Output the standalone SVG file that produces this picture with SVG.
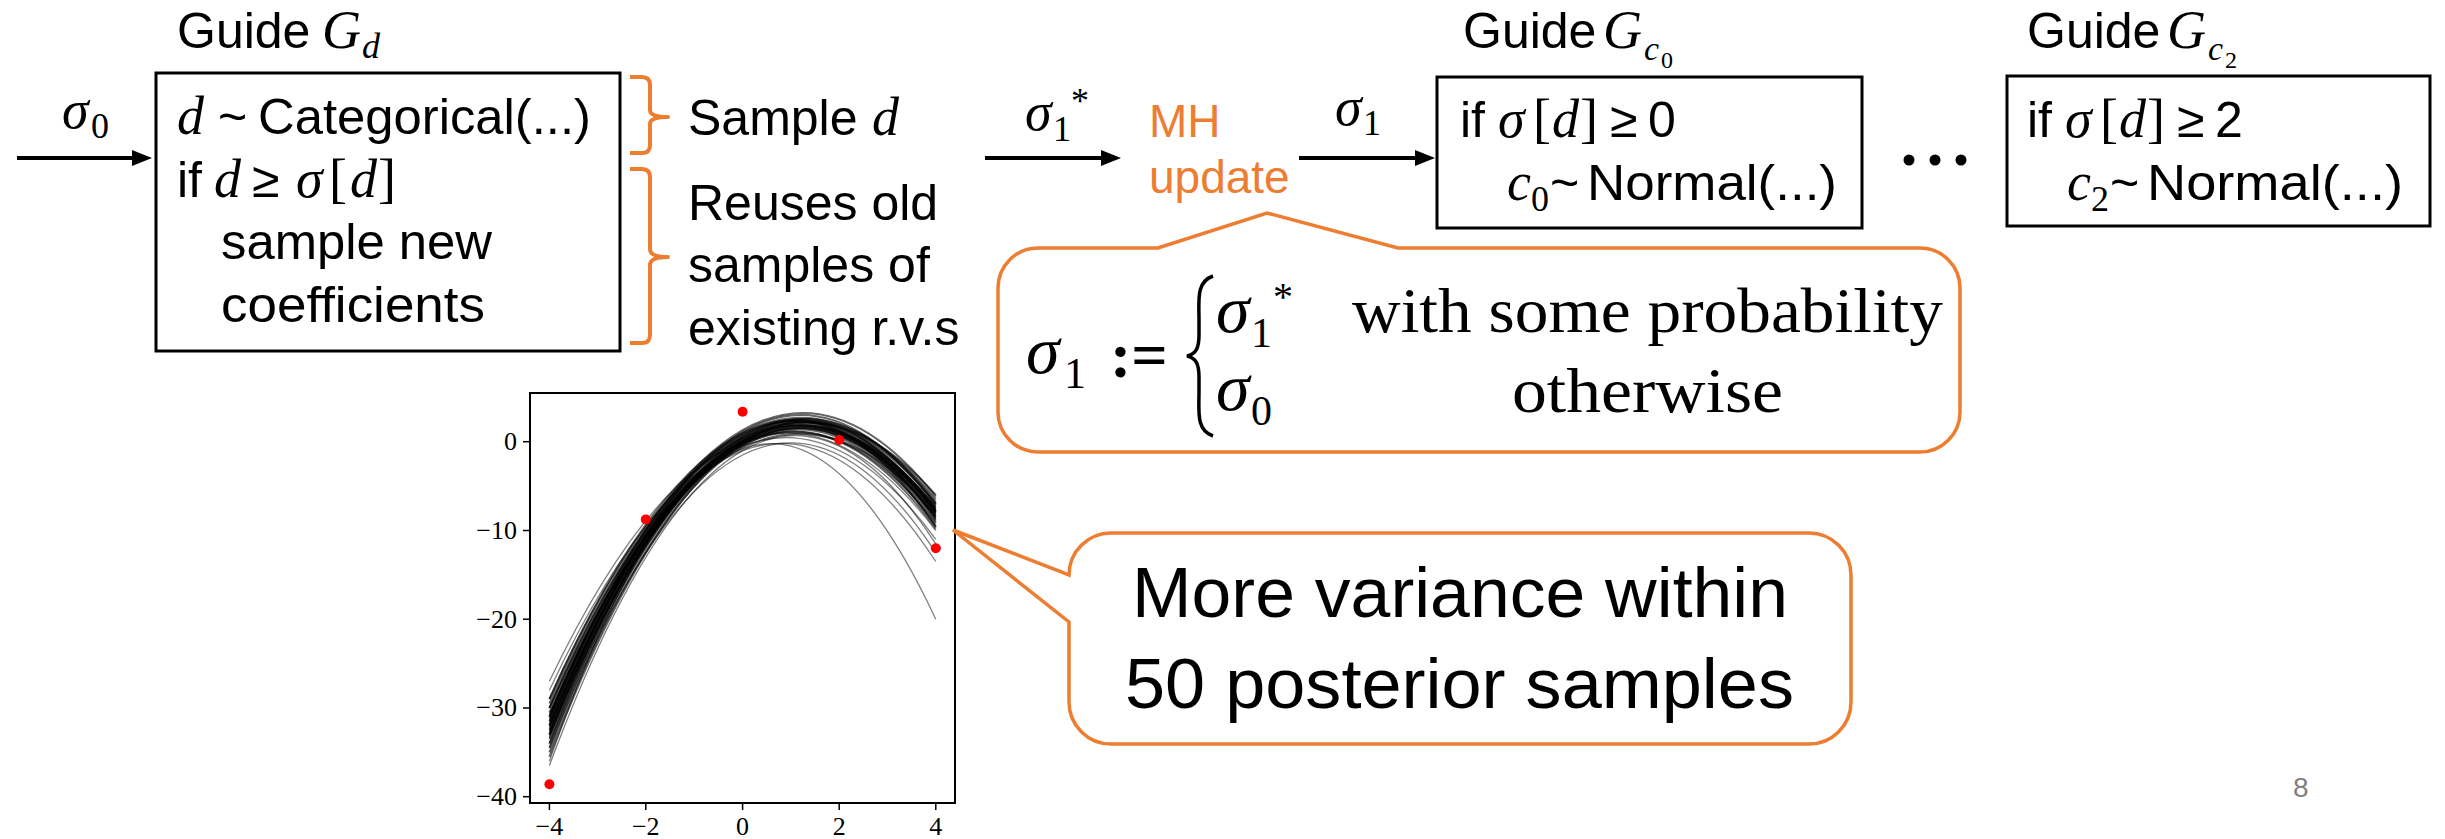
<svg xmlns="http://www.w3.org/2000/svg" width="2445" height="839" viewBox="0 0 2445 839">
<style>
.sans{font-family:"Liberation Sans",Arial,sans-serif;font-size:50px;fill:#000}
.math{font-family:"Liberation Serif","Times New Roman",serif;font-style:italic;font-size:54px;fill:#000}
.rm{font-family:"Liberation Serif","Times New Roman",serif;font-size:54px;fill:#000}
.sub{font-size:36px}
.box{fill:#fff;stroke:#000;stroke-width:3}
.brace{fill:none;stroke:#ED7D31;stroke-width:4;stroke-linejoin:round}
.callout{fill:#fff;stroke:#ED7D31;stroke-width:3.5;stroke-linejoin:miter}
.orange{fill:#ED7D31}
.conn{stroke:#000;stroke-width:4;fill:none}
.big{font-family:"Liberation Serif","Times New Roman",serif;font-size:64px;fill:#000}
.tick{font-family:"Liberation Serif","Times New Roman",serif;font-size:26px;fill:#000}
.curve{fill:none;stroke:#000;stroke-width:2;stroke-opacity:0.6}
.outlier{fill:none;stroke:#000;stroke-width:1.3;stroke-opacity:0.5}
</style>
<defs>
<marker id="ah" viewBox="0 0 20 16" refX="10" refY="8" markerWidth="20" markerHeight="16" markerUnits="userSpaceOnUse" orient="auto">
<path d="M0,0 L20,8 L0,16 Z" fill="#000"/>
</marker>
</defs>
<rect width="2445" height="839" fill="#fff"/>

<g id="connectors">
<line class="conn" x1="17" y1="158" x2="142" y2="158" marker-end="url(#ah)"/>
<line class="conn" x1="985" y1="158" x2="1111" y2="158" marker-end="url(#ah)"/>
<line class="conn" x1="1299" y1="158" x2="1425" y2="158" marker-end="url(#ah)"/>
<text class="math" x="62" y="128">σ</text><text class="rm sub" x="91" y="138">0</text>
<text class="math" x="1025" y="130">σ</text><text class="rm sub" x="1053" y="141">1</text><text class="rm sub" x="1071" y="113">*</text>
<text class="math" x="1335" y="125">σ</text><text class="rm sub" x="1363" y="135">1</text>
</g>

<g id="guide-d">
<text x="177" y="48"><tspan class="sans">Guide</tspan><tspan class="math" x="322">G</tspan><tspan class="math sub" x="362" y="58">d</tspan></text>
<rect class="box" x="156" y="73" width="464" height="278"/>
<text class="math" x="177" y="134">d</text>
<text class="sans" x="218" y="134">~</text>
<text class="sans" x="258" y="134" textLength="333" lengthAdjust="spacingAndGlyphs">Categorical(...)</text>
<text class="sans" x="177" y="197">if</text>
<text class="math" x="214" y="197">d</text>
<text class="sans" x="252" y="197">≥</text>
<text class="math" x="296" y="197">σ</text>
<text class="rm" x="329" y="197">[</text>
<text class="math" x="350" y="197">d</text>
<text class="rm" x="378" y="197">]</text>
<text class="sans" x="221" y="259" textLength="271" lengthAdjust="spacingAndGlyphs">sample new</text>
<text class="sans" x="221" y="322" textLength="264" lengthAdjust="spacingAndGlyphs">coefficients</text>
</g>

<g id="brace-sample">
<path class="brace" d="M630,77 H642 Q650,77 650,85 V110 Q650,117 668,117 Q650,117 650,124 V145 Q650,153 642,153 H630"/>
<text x="688" y="135"><tspan class="sans">Sample</tspan><tspan class="math" x="872">d</tspan></text>
</g>

<g id="brace-reuse">
<path class="brace" d="M630,169 H642 Q650,169 650,177 V249 Q650,257 668,257 Q650,257 650,265 V335 Q650,343 642,343 H630"/>
<text class="sans" x="688" y="220">Reuses old</text>
<text class="sans" x="688" y="282">samples of</text>
<text class="sans" x="688" y="345">existing r.v.s</text>
</g>

<g id="mh-update">
<text class="sans orange" x="1149" y="137" style="font-size:46px">MH</text>
<text class="sans orange" x="1149" y="193" style="font-size:46px">update</text>
</g>

<g id="guide-c0">
<text x="1463" y="48"><tspan class="sans">Guide</tspan><tspan class="math" x="1603">G</tspan><tspan class="math" x="1644" y="60" style="font-size:34px">c</tspan><tspan class="rm" x="1661" y="68" style="font-size:24px">0</tspan></text>
<rect class="box" x="1437" y="77" width="425" height="151"/>
<text class="sans" x="1460" y="137">if</text>
<text class="math" x="1498" y="137">σ</text>
<text class="rm" x="1533" y="137">[</text>
<text class="math" x="1552" y="137">d</text>
<text class="rm" x="1580" y="137">]</text>
<text class="sans" x="1610" y="137">≥</text>
<text class="sans" x="1648" y="137">0</text>
<text class="math" x="1507" y="200">c</text>
<text class="rm sub" x="1531" y="211">0</text>
<text class="sans" x="1550" y="200">~</text>
<text class="sans" x="1587" y="200" textLength="250" lengthAdjust="spacingAndGlyphs">Normal(...)</text>
</g>

<g id="dots">
<circle cx="1909" cy="160" r="5.5"/>
<circle cx="1935" cy="160" r="5.5"/>
<circle cx="1961" cy="160" r="5.5"/>
</g>

<g id="guide-c2">
<text x="2027" y="48"><tspan class="sans">Guide</tspan><tspan class="math" x="2167">G</tspan><tspan class="math" x="2208" y="60" style="font-size:34px">c</tspan><tspan class="rm" x="2225" y="68" style="font-size:24px">2</tspan></text>
<rect class="box" x="2007" y="76" width="423" height="150"/>
<text class="sans" x="2027" y="137">if</text>
<text class="math" x="2065" y="137">σ</text>
<text class="rm" x="2100" y="137">[</text>
<text class="math" x="2119" y="137">d</text>
<text class="rm" x="2147" y="137">]</text>
<text class="sans" x="2177" y="137">≥</text>
<text class="sans" x="2215" y="137">2</text>
<text class="math" x="2067" y="200">c</text>
<text class="rm sub" x="2091" y="211">2</text>
<text class="sans" x="2110" y="200">~</text>
<text class="sans" x="2147" y="200" textLength="256" lengthAdjust="spacingAndGlyphs">Normal(...)</text>
</g>

<g id="callout-mh">
<path class="callout" d="M1038,248 L1158,248 L1267,213 L1398,248 L1920,248 A40,40 0 0 1 1960,288 L1960,412 A40,40 0 0 1 1920,452 L1038,452 A40,40 0 0 1 998,412 L998,288 A40,40 0 0 1 1038,248 Z"/>
<text class="big" x="1026" y="373" style="font-style:italic;font-size:68px">σ</text>
<text class="big" x="1064" y="388" style="font-size:44px">1</text>
<text class="big" x="1110" y="377" style="font-weight:bold">:=</text>
<path d="M1213,276 C1196,282 1199,300 1199,320 L1199,335 C1199,348 1196,354 1187,356 C1196,358 1199,364 1199,377 L1199,392 C1199,412 1196,430 1213,436" fill="none" stroke="#000" stroke-width="3.5"/>
<text class="big" x="1216" y="332" style="font-style:italic;font-size:68px">σ</text>
<text class="big" x="1251" y="347" style="font-size:42px">1</text>
<text class="big" x="1273" y="310" style="font-size:40px">*</text>
<text class="big" x="1216" y="410" style="font-style:italic;font-size:68px">σ</text>
<text class="big" x="1251" y="425" style="font-size:42px">0</text>
<text class="big" x="1352" y="332" textLength="591" lengthAdjust="spacingAndGlyphs">with some probability</text>
<text class="big" x="1512" y="412" textLength="271" lengthAdjust="spacingAndGlyphs">otherwise</text>
</g>

<g id="plot">
<path d="M549.4,712.4 Q742.6,270.9 935.8,505.6 L935.8,519.8 Q742.6,261.1 549.4,739 Z" fill="#000" fill-opacity="0.85"/>
<path class="curve" d="M549.4,699.1 Q742.6,266.4 935.8,499.4"/>
<path class="curve" d="M549.4,708.0 Q742.6,265.1 935.8,503.8"/>
<path class="curve" d="M549.4,716.8 Q742.6,262.0 935.8,508.3"/>
<path class="curve" d="M549.4,725.7 Q742.6,258.9 935.8,512.7"/>
<path class="curve" d="M549.4,734.6 Q742.6,257.6 935.8,517.1"/>
<path class="curve" d="M549.4,743.5 Q742.6,256.2 935.8,521.6"/>
<path class="curve" d="M549.4,752.3 Q742.6,253.1 935.8,526.0"/>
<path class="curve" d="M549.4,712.4 Q742.6,278.0 935.8,494.9"/>
<path class="curve" d="M549.4,721.3 Q742.6,246.9 935.8,519.8"/>
<path class="curve" d="M549.4,730.1 Q742.6,246.0 935.8,505.6"/>
<path class="curve" d="M549.4,739.0 Q742.6,255.8 935.8,502.1"/>
<path class="curve" d="M549.4,747.9 Q742.6,250.5 935.8,510.9"/>
<path class="curve" d="M549.4,703.5 Q742.6,273.5 935.8,523.3"/>
<path class="curve" d="M549.4,708.0 Q742.6,284.2 935.8,515.4"/>
<path class="curve" d="M549.4,725.7 Q742.6,263.3 935.8,528.7"/>
<path class="curve" d="M549.4,716.8 Q742.6,253.6 935.8,496.7"/>
<path class="curve" d="M549.4,734.6 Q742.6,238.5 935.8,526.9"/>
<path class="curve" d="M549.4,743.5 Q742.6,244.7 935.8,512.7"/>
<path class="curve" d="M549.4,756.8 Q742.6,254.9 935.8,503.8"/>
<path class="curve" d="M549.4,699.1 Q742.6,271.3 935.8,510.9"/>
<path class="outlier" d="M549.4,681.3 Q742.6,277.5 935.8,530.5"/>
<path class="outlier" d="M549.4,690.2 Q742.6,277.5 935.8,539.3"/>
<path class="outlier" d="M549.4,765.6 Q742.6,246.5 935.8,543.8"/>
<path class="outlier" d="M549.4,747.9 Q742.6,259.8 935.8,552.6"/>
<path class="outlier" d="M549.4,761.2 Q742.6,207.4 935.8,619.2"/>
<path class="outlier" d="M549.4,708.0 Q742.6,266.4 935.8,561.5"/>
<g fill="#ff0000">
<circle cx="549.4" cy="784.3" r="5"/>
<circle cx="645.8" cy="519.4" r="5"/>
<circle cx="742.6" cy="411.7" r="5"/>
<circle cx="839.2" cy="439.9" r="5"/>
<circle cx="935.8" cy="548.2" r="5"/>
</g>
<rect x="530" y="393" width="425" height="410" fill="none" stroke="#000" stroke-width="2"/>
<g stroke="#000" stroke-width="1.5">
<line x1="523" y1="441.7" x2="530" y2="441.7"/>
<line x1="523" y1="530.5" x2="530" y2="530.5"/>
<line x1="523" y1="619.2" x2="530" y2="619.2"/>
<line x1="523" y1="708.0" x2="530" y2="708.0"/>
<line x1="523" y1="796.7" x2="530" y2="796.7"/>
<line x1="549.4" y1="803" x2="549.4" y2="810"/>
<line x1="645.8" y1="803" x2="645.8" y2="810"/>
<line x1="742.6" y1="803" x2="742.6" y2="810"/>
<line x1="839.2" y1="803" x2="839.2" y2="810"/>
<line x1="935.8" y1="803" x2="935.8" y2="810"/>
</g>
<g class="tick" text-anchor="end">
<text x="517" y="450">0</text>
<text x="517" y="539">−10</text>
<text x="517" y="628">−20</text>
<text x="517" y="716">−30</text>
<text x="517" y="805">−40</text>
</g>
<g class="tick" text-anchor="middle">
<text x="549.4" y="835">−4</text>
<text x="645.8" y="835">−2</text>
<text x="742.6" y="835">0</text>
<text x="839.2" y="835">2</text>
<text x="935.8" y="835">4</text>
</g>
</g>

<g id="callout-variance">
<path class="callout" d="M1111,533 L1809,533 A42,42 0 0 1 1851,575 L1851,702 A42,42 0 0 1 1809,744 L1111,744 A42,42 0 0 1 1069,702 L1069,622 L953,530 L1069,575 A42,42 0 0 1 1111,533 Z"/>
<text class="sans" x="1132" y="617" style="font-size:70px" textLength="656" lengthAdjust="spacingAndGlyphs">More variance within</text>
<text class="sans" x="1125" y="708" style="font-size:70px" textLength="669" lengthAdjust="spacingAndGlyphs">50 posterior samples</text>
</g>

<text x="2293" y="797" style="font-family:'Liberation Sans',Arial,sans-serif;font-size:28px;fill:#7f7f7f">8</text>
</svg>
